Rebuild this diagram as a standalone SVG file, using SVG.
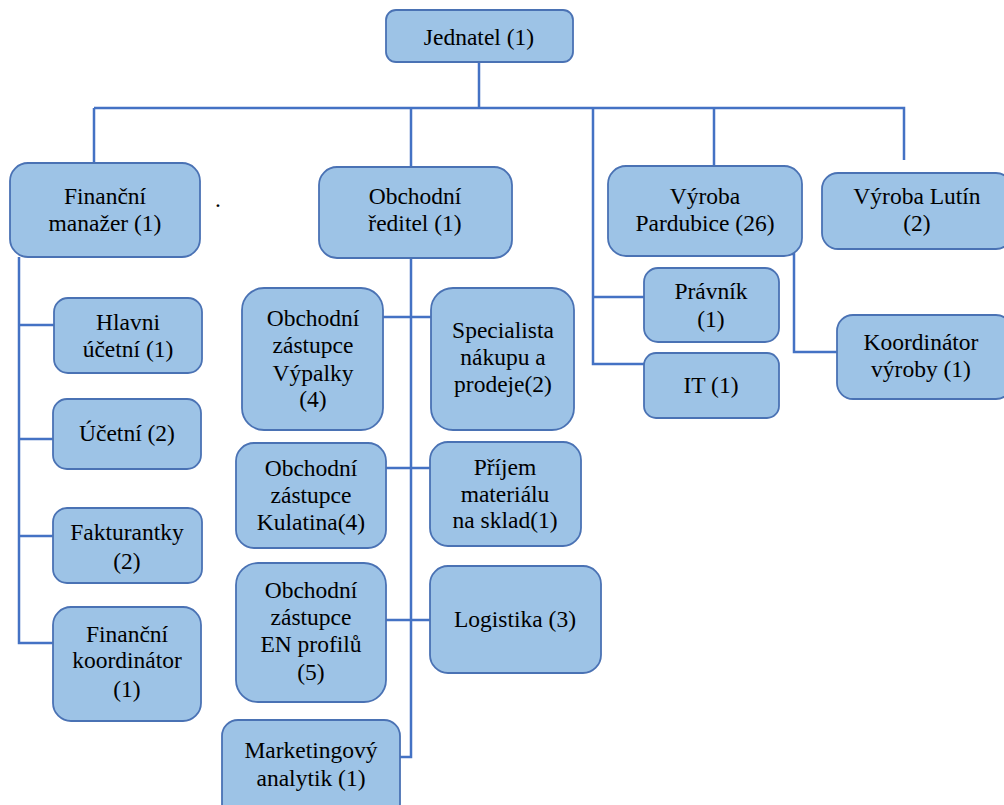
<svg xmlns="http://www.w3.org/2000/svg" width="1004" height="805" viewBox="0 0 1004 805">
<style>
.b{fill:#9dc3e6;stroke:#4a72b4;stroke-width:1.8}
.t text{font-family:"Liberation Serif",serif;font-size:23.5px;fill:#000;text-anchor:middle}
.c{fill:none;stroke:#4472c4;stroke-width:2.5}
</style>
<rect width="1004" height="805" fill="#fff"/>
<g id="connectors" class="c">
<path d="M479 62V108M94 108H904V160M94 108V163M411 108V167M593 108V364H644M593 297H644M714 108V166"/>
<path d="M19 257V643H53M19 325H54M19 439H53M19 536H53"/>
<path d="M411 258V757H394M383 317H431M386 468H430M386 620H430"/>
<path d="M752 254H794V352H837"/>
</g>
<g class="t">
<g id="jednatel"><rect class="b" x="386" y="10" width="187" height="52" rx="10"/><text x="479" y="45">Jednatel (1)</text></g>
<g id="financni-manazer"><rect class="b" x="10" y="163" width="190" height="94" rx="18"/><text x="105" y="204">Finanční</text><text x="105" y="231">manažer (1)</text></g>
<text x="218" y="207">.</text>
<g id="obchodni-reditel"><rect class="b" x="319" y="167" width="193" height="91" rx="18"/><text x="415" y="204">Obchodní</text><text x="415" y="231">ředitel (1)</text></g>
<g id="vyroba-pardubice"><rect class="b" x="608" y="166" width="194" height="90" rx="18"/><text x="705" y="204">Výroba</text><text x="705" y="231">Pardubice (26)</text></g>
<g id="vyroba-lutin"><rect class="b" x="822" y="173" width="190" height="76" rx="16"/><text x="917" y="204">Výroba Lutín</text><text x="917" y="231">(2)</text></g>
<g id="pravnik"><rect class="b" x="644" y="268" width="135" height="74" rx="14"/><text x="711" y="299">Právník</text><text x="711" y="327">(1)</text></g>
<g id="it"><rect class="b" x="644" y="353" width="135" height="65" rx="12"/><text x="711" y="393">IT (1)</text></g>
<g id="koordinator-vyroby"><rect class="b" x="837" y="315" width="175" height="84" rx="16"/><text x="921" y="350">Koordinátor</text><text x="921" y="377">výroby (1)</text></g>
<g id="hlavni-ucetni"><rect class="b" x="54" y="298" width="148" height="75" rx="14"/><text x="128" y="330">Hlavni</text><text x="128" y="357">účetní (1)</text></g>
<g id="ucetni"><rect class="b" x="53" y="399" width="148" height="70" rx="14"/><text x="127" y="441">Účetní (2)</text></g>
<g id="fakturantky"><rect class="b" x="53" y="508" width="149" height="75" rx="14"/><text x="127" y="540">Fakturantky</text><text x="127" y="569">(2)</text></g>
<g id="financni-koordinator"><rect class="b" x="53" y="607" width="148" height="114" rx="18"/><text x="127" y="642">Finanční</text><text x="127" y="668">koordinátor</text><text x="127" y="697">(1)</text></g>
<g id="oz-vypalky"><rect class="b" x="242" y="288" width="141" height="142" rx="22"/><text x="313" y="326">Obchodní</text><text x="313" y="353">zástupce</text><text x="313" y="381">Výpalky</text><text x="313" y="407">(4)</text></g>
<g id="specialista"><rect class="b" x="431" y="288" width="143" height="142" rx="22"/><text x="503" y="338">Specialista</text><text x="503" y="365">nákupu a</text><text x="503" y="392">prodeje(2)</text></g>
<g id="oz-kulatina"><rect class="b" x="236" y="443" width="150" height="105" rx="18"/><text x="311" y="476">Obchodní</text><text x="311" y="503">zástupce</text><text x="311" y="530">Kulatina(4)</text></g>
<g id="prijem-materialu"><rect class="b" x="430" y="442" width="151" height="104" rx="18"/><text x="505" y="475">Příjem</text><text x="505" y="502">materiálu</text><text x="505" y="528">na sklad(1)</text></g>
<g id="oz-en-profilu"><rect class="b" x="236" y="563" width="150" height="139" rx="22"/><text x="311" y="598">Obchodní</text><text x="311" y="625">zástupce</text><text x="311" y="652">EN profilů</text><text x="311" y="680">(5)</text></g>
<g id="logistika"><rect class="b" x="430" y="566" width="171" height="107" rx="18"/><text x="515" y="627">Logistika (3)</text></g>
<g id="marketingovy-analytik"><rect class="b" x="222" y="720" width="178" height="100" rx="16"/><text x="311" y="758">Marketingový</text><text x="311" y="786">analytik (1)</text></g>
</g>
</svg>
